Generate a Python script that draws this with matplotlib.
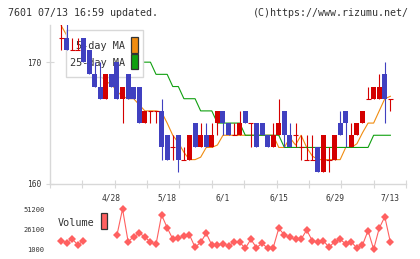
import numpy as np
import matplotlib.pyplot as plt
from matplotlib.patches import Rectangle

# daily candles, 60 trading days up to 7/13
opens = [172, 172, 171, 171, 172, 171, 169, 168, 167, 169,
         170, 167, 169, 168, 168, 165, 166, 166, 166, 164,
         163, 164, 162, 162, 165, 163, 164, 163, 165, 166,
         165, 164, 164, 166, 165, 165, 165, 164, 163, 164,
         166, 164, 164, 163, 162, 162, 163, 161, 162, 162,
         165, 166, 163, 164, 165, 167, 167, 167, 169, 167]
highs = [173.5, 173.5, 172, 172, 172, 171, 170, 170, 169, 169,
         170, 168, 169, 168, 168, 166, 166, 166, 167, 164,
         164, 164, 163, 164, 165, 165, 165, 165, 166, 166,
         165, 165, 166, 166, 165, 165, 165, 164, 165, 167,
         166, 165, 165, 164, 164, 164, 163, 164, 163, 164,
         166, 166, 165, 165, 166, 168, 168, 169, 170, 167]
lows = [171, 171, 171, 171, 170, 169, 168, 167, 167, 168,
        167, 165, 167, 167, 165, 165, 165, 165, 162, 162,
        162, 161, 162, 162, 163, 163, 163, 163, 164, 164,
        164, 164, 164, 165, 163, 163, 164, 163, 163, 164,
        163, 163, 163, 162, 162, 162, 161, 161, 161, 162,
        164, 163, 163, 164, 165, 167, 167, 167, 165, 166]
closes = [172, 171, 171, 171, 170, 169, 168, 167, 169, 168,
          167, 168, 167, 167, 165, 166, 166, 166, 163, 162,
          163, 162, 162, 164, 163, 164, 163, 164, 166, 165,
          164, 164, 165, 165, 165, 163, 164, 163, 164, 165,
          164, 163, 164, 163, 162, 162, 161, 164, 162, 164,
          164, 165, 164, 165, 166, 167, 168, 168, 167, 167]

# moving averages as drawn
ma5 = [173.0, 172.2, 171.6, 171.0, 170.6, 170.0, 169.6, 169.0, 168.4, 168.2,
       167.6, 167.2, 167.0, 167.0, 166.5, 166.0, 166.0, 166.0, 165.9, 165.0,
       164.0, 163.4, 162.6, 162.0, 162.0, 162.2, 163.0, 163.0, 163.2, 164.0,
       164.0, 164.0, 164.0, 164.0, 164.0, 164.0, 164.0, 164.0, 164.0, 163.0,
       163.0, 163.8, 163.2, 164.0, 163.0, 162.3, 162.0, 162.0, 162.0, 162.0,
       162.0, 163.0, 163.0, 163.3, 164.2, 165.0, 165.0, 166.0, 167.0, 167.2]
ma25 = [np.nan] * 14 + [170, 170, 170, 169, 169, 169, 168, 168, 167, 167,
                        167, 166, 166, 166, 165, 165, 165, 165, 165, 164,
                        164, 164, 164, 164, 164, 164, 163, 163, 163, 163,
                        163, 163, 163, 163, 163, 163, 163, 163, 163, 163,
                        163, 163, 164, 164, 164, 164]

volume = [11400, 8900, 13550, 6000, 11400, np.nan, np.nan, np.nan, np.nan, np.nan,
          18600, 51200, 10200, 16400, 20700, 16400, 9400, 6900, 43700, 27700,
          13550, 14400, 17300, 18600, 3100, 9400, 20700, 6000, 6000, 7300,
          5100, 9400, 9400, 1900, 13200, 2600, 8200, 1900, 2600, 27000,
          18600, 15700, 13200, 13200, 24800, 11400, 9400, 11400, 3100, 10200,
          13200, 7300, 10200, 1900, 6000, 24000, 700, 27000, 41500, 9400]

date_pos = [9, 19, 29, 39, 49, 59]
date_labels = ["4/28", "5/18", "6/1", "6/15", "6/29", "7/13"]
vol_ticks = [1000, 26100, 51200]

RED = "#d40000"
BLUE = "#4040c0"
ORANGE = "#f08c10"
GREEN = "#10a010"
VOLC = "#ff6060"
GRID = "#d8d8d8"
TXT = "#333333"
MONO = "DejaVu Sans Mono"

fig = plt.figure(figsize=(4.2, 2.59), dpi=100)
ax = fig.add_axes([50 / 420, 75 / 259, 356 / 420, 159 / 259])
axv = fig.add_axes([50 / 420, 7 / 259, 356 / 420, 47 / 259])

x = np.arange(len(opens))
o = np.array(opens, float)
c = np.array(closes, float)
cols = [BLUE if cc < oo else RED for oo, cc in zip(o, c)]

ax.plot(x, ma5, color=ORANGE, lw=0.8, zorder=2)
ax.plot(x, ma25, color=GREEN, lw=0.8, zorder=2)

# legend box, sits above the MA lines but under the candles
ax.add_patch(Rectangle((0.044, 0.675), 0.218, 0.294, transform=ax.transAxes,
                       facecolor="white", edgecolor=GRID, lw=1, zorder=2.5))
ax.text(0.2107, 0.868, "5-day MA", transform=ax.transAxes, ha="right", va="center",
        family=MONO, fontsize=7.3, color=TXT, zorder=2.6)
ax.text(0.2107, 0.762, "25-day MA", transform=ax.transAxes, ha="right", va="center",
        family=MONO, fontsize=7.3, color=TXT, zorder=2.6)
ax.add_patch(Rectangle((0.2275, 0.826), 0.0185, 0.097, transform=ax.transAxes,
                       facecolor=ORANGE, edgecolor=TXT, lw=0.9, zorder=2.6))
ax.add_patch(Rectangle((0.2275, 0.721), 0.0185, 0.097, transform=ax.transAxes,
                       facecolor=GREEN, edgecolor=TXT, lw=0.9, zorder=2.6))

ax.vlines(x, lows, highs, colors=cols, lw=0.8, zorder=3)
body = np.abs(c - o)
ax.bar(x, body, bottom=np.minimum(o, c), width=0.9, color=cols, lw=0, zorder=3.1)
doji = body == 0
ax.hlines(c[doji], x[doji] - 0.45, x[doji] + 0.45, colors=RED, lw=0.8, zorder=3.1)

ax.set_xlim(-2, 61.8)
ax.set_ylim(160, 173.05)
ax.set_xticks(np.linspace(-2, 61.8, 12))
ax.set_xticklabels([])
ax.set_xticks(date_pos, minor=True)
ax.set_xticklabels(date_labels, minor=True, family=MONO, fontsize=5.7, color=TXT)
ax.tick_params(axis="x", which="major", direction="inout", length=6, width=0.8, color=GRID)
ax.tick_params(axis="x", which="minor", length=0, pad=7)
ax.set_yticks([160, 170])
ax.set_yticklabels(["160", "170"], family=MONO, fontsize=5.7, color=TXT)
ax.tick_params(axis="y", direction="inout", length=6, width=0.8, color=GRID, pad=3)
for s in ["top", "right"]:
    ax.spines[s].set_visible(False)
for s in ["left", "bottom"]:
    ax.spines[s].set_color(GRID)
    ax.spines[s].set_linewidth(1)

axv.plot(x, volume, color=VOLC, lw=0.8, marker="D", markersize=4, markeredgewidth=0)
axv.set_xlim(-2, 61.8)
axv.set_ylim(-2765, 56220)
axv.set_xticks([])
axv.set_yticks(vol_ticks)
axv.set_yticklabels([str(v) for v in vol_ticks], family=MONO, fontsize=5, color=TXT)
axv.tick_params(axis="y", length=0, pad=4)
for s in axv.spines.values():
    s.set_visible(False)
axv.patch.set_alpha(0)

fig.text(58 / 420, 1 - 222.5 / 259, "Volume", ha="left", va="center",
         family=MONO, fontsize=7.3, color=TXT)
fig.patches.append(Rectangle((101 / 420, 1 - 229 / 259), 6 / 420, 16 / 259,
                             transform=fig.transFigure, facecolor=VOLC,
                             edgecolor=TXT, lw=0.9))

fig.text(8 / 420, 1 - 12.5 / 259, "7601 07/13 16:59 updated.", ha="left", va="center",
         family=MONO, fontsize=7.2, color=TXT)
fig.text(409 / 420, 1 - 12.5 / 259, "(C)https://www.rizumu.net/", ha="right", va="center",
         family=MONO, fontsize=7.2, color=TXT)

fig.savefig("out.png", dpi=100)
